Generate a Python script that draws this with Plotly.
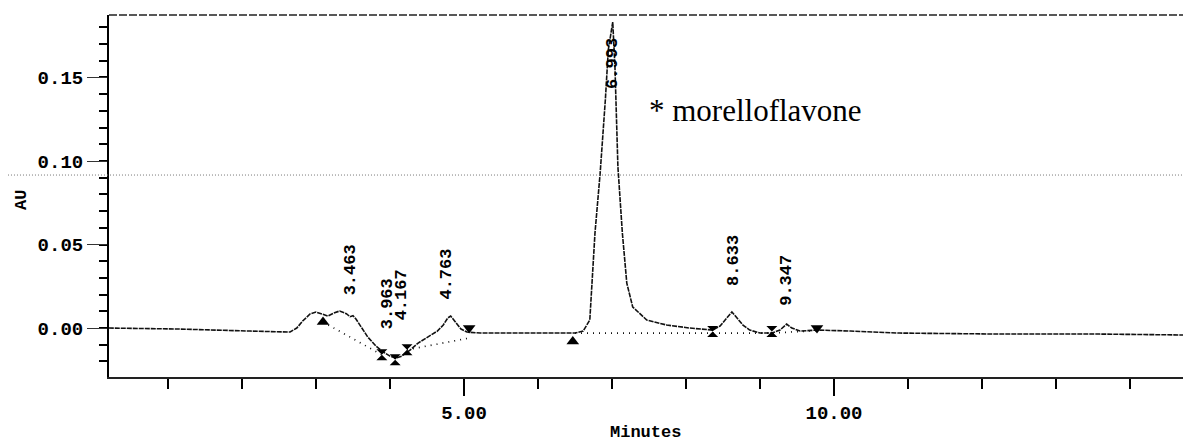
import plotly.graph_objects as go

# ---------------- data ----------------
time_min = [0.20, 1.16, 2.11, 2.65, 2.74, 2.82, 2.92, 3.00, 3.08, 3.16, 3.24, 3.32, 3.41, 3.46, 3.50,
            3.54, 3.62, 3.70, 3.81, 3.91, 4.00, 4.08, 4.16, 4.27, 4.38, 4.51, 4.64, 4.72, 4.78, 4.82,
            4.89, 4.96, 5.04, 5.22, 5.76, 6.30, 6.50, 6.61, 6.70, 6.77, 6.84, 6.91, 6.95, 7.01, 7.04,
            7.08, 7.14, 7.20, 7.28, 7.47, 7.74, 8.05, 8.36, 8.46, 8.55, 8.62, 8.69, 8.77, 8.86, 9.00,
            9.16, 9.27, 9.36, 9.43, 9.54, 9.77, 10.22, 10.89, 12.24, 13.59, 14.82]
absorbance = [0.0000, -0.0006, -0.0018, -0.0024, 0.0000, 0.0042, 0.0084, 0.0096, 0.0084, 0.0072,
              0.0090, 0.0102, 0.0086, 0.0068, 0.0074, 0.0054, 0.0000, -0.0054, -0.0108, -0.0144,
              -0.0168, -0.0180, -0.0168, -0.0132, -0.0090, -0.0054, -0.0018, 0.0018, 0.0060, 0.0072,
              0.0036, -0.0006, -0.0024, -0.0030, -0.0030, -0.0030, -0.0030, -0.0018, 0.0048, 0.0569,
              0.0928, 0.1365, 0.1665, 0.1832, 0.1563, 0.0964, 0.0569, 0.0269, 0.0126, 0.0048,
              0.0018, 0.0000, -0.0012, 0.0012, 0.0060, 0.0096, 0.0060, 0.0018, -0.0012, -0.0030,
              -0.0030, -0.0012, 0.0024, 0.0000, -0.0018, -0.0012, -0.0018, -0.0030, -0.0036, -0.0036,
              -0.0042]

# integration baselines (segments separated by None)
base_t = [3.095, 3.89, None, 4.23, 5.07, None, 6.50, 9.16, 9.77]
base_au = [0.0036, -0.016, None, -0.013, -0.006, None, -0.003, -0.003, -0.0015]

# integration tick marks
mark_t = [3.095, 3.89, 4.07, 4.23, 5.07, 6.47, 8.36, 9.16, 9.77]
mark_au = [0.0036, -0.016, -0.019, -0.013, 0.000, -0.008, -0.002, -0.002, 0.000]
mark_kind = ["start", "both", "both", "both", "end", "start", "both", "both", "end"]

# peak labels
peak_rt = [3.463, 3.963, 4.167, 4.763, 7.013, 8.633, 9.347]
peak_text = ["3.463", "3.963", "4.167", "4.763", "6.993", "8.633", "9.347"]
label_au = [0.0347, 0.0144, 0.0198, 0.0323, 0.1587, 0.0407, 0.0287]

y_ticks = [0.00, 0.05, 0.10, 0.15]
y_ticktext = ["0.00", "0.05", "0.10", "0.15"]
x_ticks = [5, 10]
x_ticktext = ["5.00", "10.00"]

MONO = "Liberation Mono, DejaVu Sans Mono, monospace"
sym_map = {"start": "triangle-up", "end": "triangle-down", "both": "hourglass"}

fig = go.Figure()
fig.add_trace(go.Scatter(x=time_min, y=absorbance, mode="lines",
                         line=dict(color="#111111", width=1.6, dash="5px,1px"),
                         hoverinfo="skip", showlegend=False))
fig.add_trace(go.Scatter(x=base_t, y=base_au, mode="lines",
                         line=dict(color="#111111", width=1.7, dash="1px,5px"),
                         hoverinfo="skip", showlegend=False, connectgaps=False))
fig.add_trace(go.Scatter(x=mark_t, y=mark_au, mode="markers",
                         marker=dict(symbol=[sym_map[k] for k in mark_kind], size=11, color="black",
                                     line=dict(width=0)),
                         hoverinfo="skip", showlegend=False))

for rt, txt, ly in zip(peak_rt, peak_text, label_au):
    fig.add_annotation(x=rt, y=ly, xref="x", yref="y", text=txt, showarrow=False,
                       textangle=-90, font=dict(family=MONO, size=17, color="black", weight="bold"))

fig.add_annotation(x=7.47, y=0.1305, xref="x", yref="y", text="* morelloflavone", showarrow=False,
                   xanchor="left", font=dict(family="Liberation Serif, Times New Roman, serif",
                                             size=31, color="black"))

# y-axis title "AU" and x-axis title "Minutes"
fig.add_annotation(x=-0.081, y=0.49, xref="paper", yref="paper", text="AU", showarrow=False,
                   xanchor="center", yanchor="middle", textangle=-90,
                   font=dict(family=MONO, size=17, color="black", weight="bold"))
fig.add_annotation(x=0.496, y=-0.153, xref="paper", yref="paper", text="Minutes", showarrow=False,
                   xanchor="center", yanchor="middle",
                   font=dict(family=MONO, size=17, color="black", weight="bold"))

# scan artefact line and top frame
fig.add_shape(type="line", xref="paper", yref="y", x0=-0.11, x1=1, y0=0.0916, y1=0.0916,
              line=dict(color="#777777", width=1, dash="1px,2px"))
fig.add_shape(type="line", xref="paper", yref="paper", x0=0, x1=1, y0=1, y1=1,
              line=dict(color="#222222", width=1.5, dash="8px,2px"))

fig.update_xaxes(range=[0.203, 14.824], tickvals=x_ticks, ticktext=x_ticktext,
                 ticks="outside", ticklen=17, tickwidth=1.5, tickcolor="black",
                 showline=True, linecolor="#222222", linewidth=1.5,
                 showgrid=False, zeroline=False,
                 tickfont=dict(family=MONO, size=19, color="black", weight="bold"),
                 minor=dict(dtick=1, tick0=0, ticks="outside", ticklen=10, tickwidth=1.5,
                            tickcolor="black", showgrid=False))
fig.update_yaxes(range=[-0.0293, 0.1874], tickvals=y_ticks, ticktext=y_ticktext,
                 ticks="outside", ticklen=20, tickwidth=1, tickcolor="#333333",
                 showline=True, linecolor="black", linewidth=2,
                 showgrid=False, zeroline=False,
                 tickfont=dict(family=MONO, size=19, color="black", weight="bold"),
                 minor=dict(dtick=0.01, tick0=0, ticks="outside", ticklen=8, tickwidth=1.5,
                            tickcolor="black", showgrid=False))

# the page body adds an 8px margin on the top/left, so the figure is 8px smaller there
fig.update_layout(width=1183, height=436, margin=dict(l=101, r=0, t=7, b=67),
                  paper_bgcolor="white", plot_bgcolor="white")

fig.write_html("out.html")
